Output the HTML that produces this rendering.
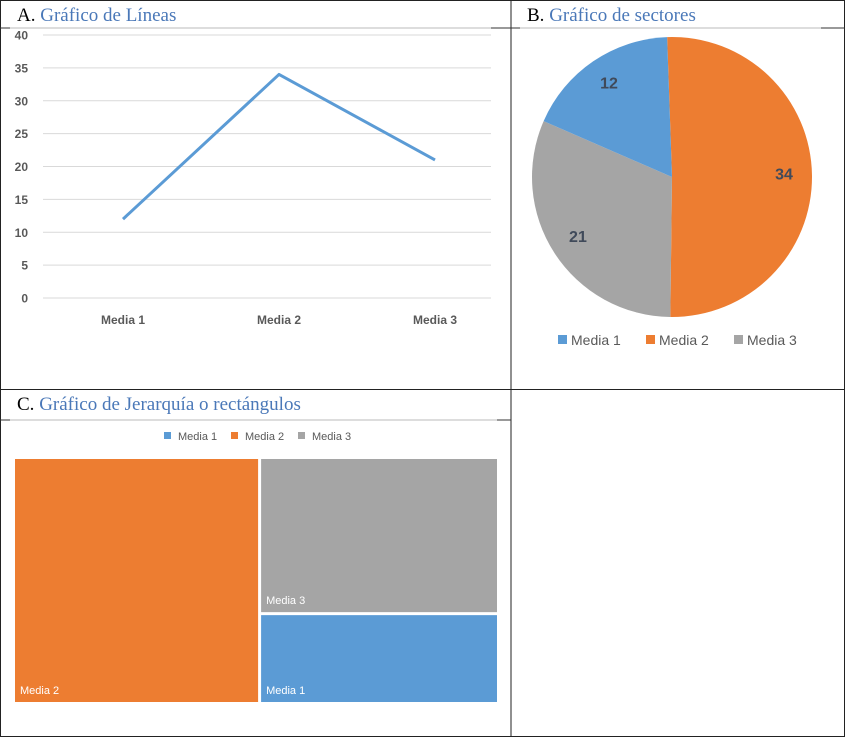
<!DOCTYPE html>
<html><head><meta charset="utf-8"><style>
html,body{margin:0;padding:0;background:#fff;}
svg{display:block;}
</style></head><body>
<svg id="s" width="845" height="737" viewBox="0 0 845 737" xmlns="http://www.w3.org/2000/svg">
<rect x="0.5" y="0.5" width="844" height="736" fill="#fff" stroke="#222"/>
<line x1="511" y1="0" x2="511" y2="737" stroke="#222"/>
<line x1="0" y1="389.5" x2="845" y2="389.5" stroke="#222"/>
<line x1="10" y1="28" x2="491" y2="28" stroke="#bbb"/>
<line x1="491" y1="28" x2="511" y2="28" stroke="#333"/>
<line x1="0" y1="28" x2="10" y2="28" stroke="#333"/>
<line x1="520" y1="28" x2="821" y2="28" stroke="#bbb"/>
<line x1="821" y1="28" x2="845" y2="28" stroke="#333"/>
<line x1="511" y1="28" x2="520" y2="28" stroke="#333"/>
<line x1="10" y1="420" x2="497" y2="420" stroke="#bbb"/>
<line x1="497" y1="420" x2="511" y2="420" stroke="#333"/>
<line x1="0" y1="420" x2="10" y2="420" stroke="#333"/>
<g font-family="'Liberation Serif',serif" font-size="19">
<text x="17" y="21"><tspan fill="#000">A. </tspan><tspan fill="#4a78b8">Gráfico de Líneas</tspan></text>
<text x="527" y="21"><tspan fill="#000">B. </tspan><tspan fill="#4a78b8">Gráfico de sectores</tspan></text>
<text x="17" y="410"><tspan fill="#000">C. </tspan><tspan fill="#4a78b8">Gráfico de Jerarquía o rectángulos</tspan></text>
</g>
<g id="line-chart"></g>
<g id="pie-chart"></g>
<g id="treemap"></g>
</svg>
<script>
const categories = ["Media 1","Media 2","Media 3"];
const values = [12, 34, 21];
const yTicks = [0,5,10,15,20,25,30,35,40];
const colors = ["#5b9bd5","#ed7d31","#a5a5a5"];
const NS = "http://www.w3.org/2000/svg";
function mk(parent, tag, attrs, text){
  const e = document.createElementNS(NS, tag);
  for (const k in attrs) e.setAttribute(k, attrs[k]);
  if (text !== undefined) e.textContent = text;
  parent.appendChild(e);
  return e;
}
// Line chart
const lc = document.getElementById("line-chart");
const y0 = 298, yTop = 35, xL = 43, xR = 491;
const yScale = v => y0 - (v / 40) * (y0 - yTop);
const band = 156;
const xScale = i => 45 + band * (i + 0.5);
yTicks.forEach(t => {
  const g = mk(lc, "line", {x1:xL, x2:xR, y1:yScale(t), y2:yScale(t), stroke:"#d9d9d9", "stroke-width":1});
  
  
  const tl = mk(lc, "text", {x:28, y:yScale(t)+4.5, "text-anchor":"end", "font-family":"'Liberation Sans',sans-serif", "font-size":12, "font-weight":"bold", fill:"#595959"}, String(t));
  
  
});
categories.forEach((c, i) => {
  const t = mk(lc, "text", {x:xScale(i), y:324, "text-anchor":"middle", "font-family":"'Liberation Sans',sans-serif", "font-size":12, "font-weight":"bold", fill:"#595959"}, c);
  
  
});
const pl = mk(lc, "polyline", {points: values.map((v,i)=>xScale(i)+","+yScale(v)).join(" "), fill:"none", stroke:"#5b9bd5", "stroke-width":3, "stroke-linejoin":"round"});



// Pie chart: order from top clockwise: Media 2, Media 3, Media 1
const pc = document.getElementById("pie-chart");
const cx = 672, cy = 177, r = 140;
const order = [1, 2, 0];
const total = values.reduce((a,b)=>a+b,0);
let ang = -2 * Math.PI/180;
order.forEach(idx => {
  const sweep = values[idx] / total * 2 * Math.PI;
  const a0 = ang, a1 = ang + sweep;
  const p = (a, rr) => [cx + rr*Math.sin(a), cy - rr*Math.cos(a)];
  const [x0,yy0] = p(a0, r), [x1,yy1] = p(a1, r);
  const large = sweep > Math.PI ? 1 : 0;
  const s = mk(pc, "path", {d:`M${cx},${cy} L${x0},${yy0} A${r},${r} 0 ${large} 1 ${x1},${yy1} Z`, fill:colors[idx]});
  
  
  const [lx, ly] = p((a0+a1)/2, r*0.8);
  const l = mk(pc, "text", {x:lx, y:ly+4, "text-anchor":"middle", "font-family":"'Liberation Sans',sans-serif", "font-size":16, "font-weight":"bold", fill:"#404a5a"}, String(values[idx]));
  
  
  ang = a1;
});
const legX = [558, 646, 734];
categories.forEach((c,i) => {
  const sw = mk(pc, "rect", {x:legX[i], y:335, width:9, height:9, fill:colors[i]});
  
  
  const t = mk(pc, "text", {x:legX[i]+13, y:345, "font-family":"'Liberation Sans',sans-serif", "font-size":14, fill:"#595959"}, c);
  
  
});

// Treemap
const tm = document.getElementById("treemap");
const TX = 15, TY = 459, TW = 482, TH = 243, gap = 3;
const w2 = TW * values[1] / total;
const rightW = TW - w2;
const h3 = TH * values[2] / (values[0] + values[2]);
const rects = [
  {i:1, x:TX, y:TY, w:w2 - gap/2, h:TH},
  {i:2, x:TX + w2 + gap/2, y:TY, w:rightW - gap/2, h:h3 - gap/2},
  {i:0, x:TX + w2 + gap/2, y:TY + h3 + gap/2, w:rightW - gap/2, h:TH - h3 - gap/2}
];
rects.forEach(o => {
  const r = mk(tm, "rect", {x:o.x, y:o.y, width:o.w, height:o.h, fill:colors[o.i]});
  
  
  const t = mk(tm, "text", {x:o.x+5, y:o.y+o.h-8, "font-family":"'Liberation Sans',sans-serif", "font-size":11, fill:"#fff"}, categories[o.i]);
  
  
});
const tlegX = [164, 231, 298];
categories.forEach((c,i) => {
  const sw = mk(tm, "rect", {x:tlegX[i], y:432, width:7, height:7, fill:colors[i]});
  
  
  const t = mk(tm, "text", {x:tlegX[i]+14, y:440, "font-family":"'Liberation Sans',sans-serif", "font-size":11, fill:"#595959"}, c);
  
  
});
</script>
</body></html>
